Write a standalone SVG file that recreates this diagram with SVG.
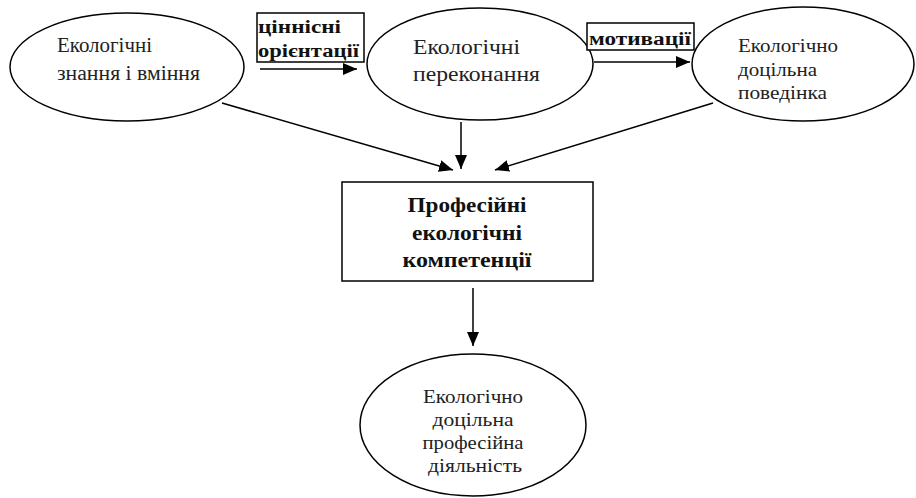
<svg xmlns="http://www.w3.org/2000/svg" width="916" height="498" viewBox="0 0 916 498">
<defs>
<marker id="ah" viewBox="0 0 14 12" refX="14" refY="6" markerWidth="14" markerHeight="12" markerUnits="userSpaceOnUse" orient="auto">
<path d="M0,0 L14,6 L0,12 Z" fill="#000"/>
</marker>
</defs>
<style>
.sh{fill:#fff;stroke:#000;stroke-width:1.5}
.c{stroke:#000;stroke-width:1.5;fill:none;marker-end:url(#ah)}
</style>
<g id="connectors">
<line class="c" x1="260" y1="69" x2="357" y2="69"/>
<line class="c" x1="594" y1="62" x2="690" y2="62"/>
<line class="c" x1="222" y1="103" x2="453" y2="170"/>
<line class="c" x1="461" y1="122" x2="461" y2="169"/>
<line class="c" x1="713" y1="103" x2="495" y2="170"/>
<line class="c" x1="473" y1="288" x2="473" y2="346"/>
</g>
<g font-family="Liberation Serif, Times New Roman, serif" font-size="18" fill="#222">
<g id="n1" font-size="20">
<ellipse class="sh" cx="127" cy="67" rx="117" ry="54"/>
<text x="57" y="52" textLength="95" lengthAdjust="spacingAndGlyphs">Екологічні</text>
<text x="57" y="80" textLength="143" lengthAdjust="spacingAndGlyphs">знання і вміння</text>
</g>
<g id="l1" font-weight="bold" fill="#111">
<rect class="sh" x="257" y="13" width="107" height="49"/>
<text x="258" y="33" textLength="83" lengthAdjust="spacingAndGlyphs">ціннісні</text>
<text x="258" y="57" textLength="101" lengthAdjust="spacingAndGlyphs">орієнтації</text>
</g>
<g id="n2" font-size="22">
<ellipse class="sh" cx="480" cy="64" rx="113" ry="56"/>
<text x="413" y="54" textLength="107" lengthAdjust="spacingAndGlyphs">Екологічні</text>
<text x="413" y="81" textLength="127" lengthAdjust="spacingAndGlyphs">переконання</text>
</g>
<g id="l2" font-weight="bold" fill="#111">
<rect class="sh" x="587" y="23" width="107" height="27"/>
<text x="589" y="45" textLength="102" lengthAdjust="spacingAndGlyphs">мотивації</text>
</g>
<g id="n3" font-size="19">
<ellipse class="sh" cx="803" cy="64" rx="111" ry="57"/>
<text x="738" y="52" textLength="100" lengthAdjust="spacingAndGlyphs">Екологічно</text>
<text x="738" y="76" textLength="79" lengthAdjust="spacingAndGlyphs">доцільна</text>
<text x="738" y="99" textLength="89" lengthAdjust="spacingAndGlyphs">поведінка</text>
</g>
<g id="n4" font-weight="bold" font-size="20" fill="#111" text-anchor="middle">
<rect class="sh" x="342" y="182" width="251" height="99"/>
<text x="467" y="212" textLength="119" lengthAdjust="spacingAndGlyphs">Професійні</text>
<text x="467" y="240" textLength="110" lengthAdjust="spacingAndGlyphs">екологічні</text>
<text x="467" y="267" textLength="129" lengthAdjust="spacingAndGlyphs">компетенції</text>
</g>
<g id="n5" font-size="19" text-anchor="middle">
<ellipse class="sh" cx="473" cy="425" rx="113" ry="71"/>
<text x="473" y="403" textLength="100" lengthAdjust="spacingAndGlyphs">Екологічно</text>
<text x="473" y="426" textLength="81" lengthAdjust="spacingAndGlyphs">доцільна</text>
<text x="473" y="449" textLength="101" lengthAdjust="spacingAndGlyphs">професійна</text>
<text x="475" y="472" textLength="94" lengthAdjust="spacingAndGlyphs">діяльність</text>
</g>
</g>
</svg>
